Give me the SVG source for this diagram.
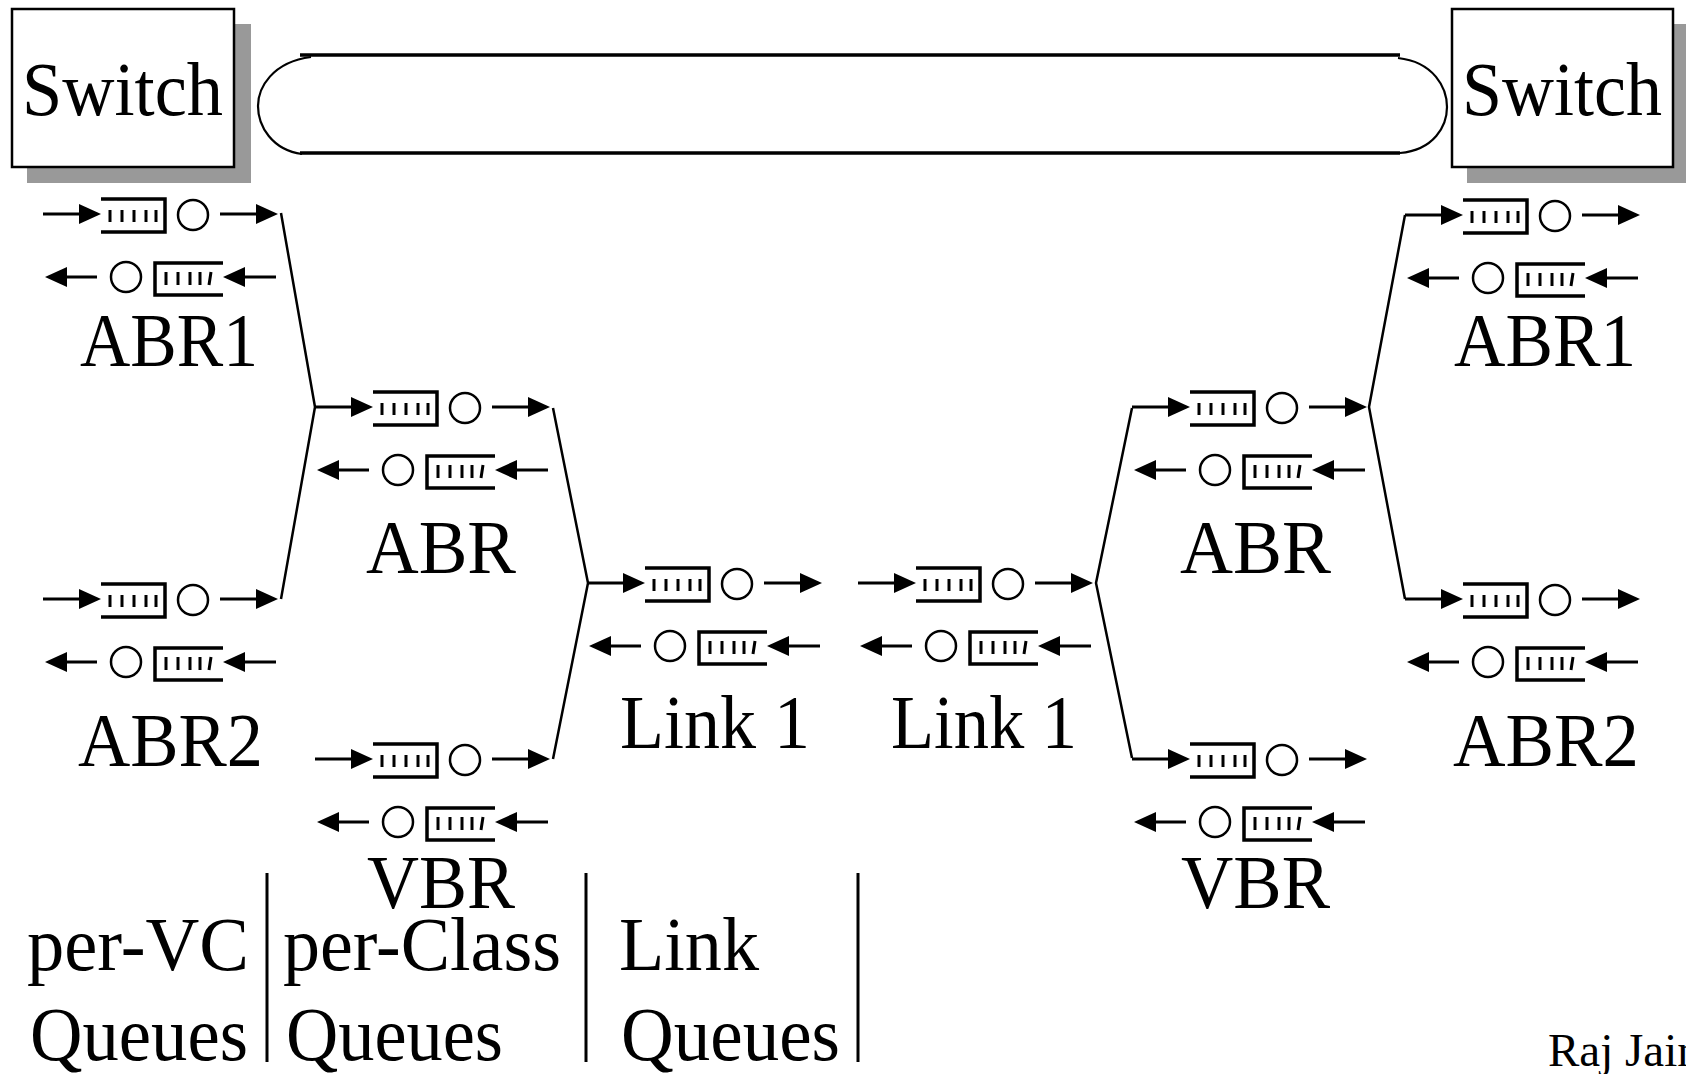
<svg xmlns="http://www.w3.org/2000/svg" xmlns:xlink="http://www.w3.org/1999/xlink" width="1686" height="1074" viewBox="0 0 1686 1074">
<style>
.ln{stroke:#000;stroke-width:3;fill:none}
.bx{stroke:#000;stroke-width:3.5;fill:none}
.tk{stroke:#000;stroke-width:3;fill:none}
.cir{stroke:#000;stroke-width:2.5;fill:#fff}
.ah{fill:#000;stroke:none}
.con{stroke:#000;stroke-width:2.5;fill:none}
.lbl{font-family:"Liberation Serif","Times New Roman",serif;font-size:76px;fill:#000}
.sm{font-family:"Liberation Serif","Times New Roman",serif;font-size:47px;fill:#000}
</style>
<defs>
<g id="unit">
  <!-- forward row -->
  <path class="ln" d="M0,0 H40"/>
  <polygon class="ah" points="36,-10 58,0 36,10"/>
  <path class="bx" d="M58,-15 H122 V18 H58"/>
  <path class="tk" d="M67,-4 V8 M79,-4 V8 M91,-4 V8 M103,-4 V8 M113,-4 V8"/>
  <circle class="cir" cx="150" cy="1" r="15"/>
  <path class="ln" d="M177,0 H216"/>
  <polygon class="ah" points="213,-10 235,0 213,10"/>
  <!-- backward row -->
  <polygon class="ah" points="2,63 24,53 24,73"/>
  <path class="ln" d="M20,63 H54"/>
  <circle class="cir" cx="83" cy="63" r="15"/>
  <path class="bx" d="M180,49 H112 V81 H180"/>
  <path class="tk" d="M123,58 V71 M135,58 V71 M147,58 V71 M157,58 V71 M168,58 L166,71"/>
  <path class="ln" d="M199,63 H233"/>
  <polygon class="ah" points="180,63 202,53 202,73"/>
</g>
</defs>
<rect width="1686" height="1074" fill="#fff"/>

<g id="switch-left">
  <rect x="27" y="24" width="224" height="159" fill="#999"/>
  <rect x="12" y="9" width="222" height="158" fill="#fff" stroke="#000" stroke-width="2.5"/>
  <text class="lbl" x="22" y="115" textLength="201" lengthAdjust="spacingAndGlyphs">Switch</text>
</g>
<g id="switch-right">
  <rect x="1467" y="24" width="224" height="159" fill="#999"/>
  <rect x="1452" y="9" width="221" height="158" fill="#fff" stroke="#000" stroke-width="2.5"/>
  <text class="lbl" x="1462" y="115" textLength="200" lengthAdjust="spacingAndGlyphs">Switch</text>
</g>
<g id="link-pipe">
  <path d="M300,55 H1400 M300,153 H1400" stroke="#000" stroke-width="3.5" fill="none"/>
  <path d="M311,57 C272,62 258,88 258,106 C258,126 272,150 302,154" stroke="#000" stroke-width="2.2" fill="none"/>
  <path d="M1398,58 C1434,62 1447,88 1447,107 C1447,126 1434,150 1400,153" stroke="#000" stroke-width="2.2" fill="none"/>
</g>

<g id="connectors">
  <path class="con" d="M281,213 L315,407 L281,599"/>
  <path class="con" d="M553,408 L588,583 L553,759"/>
  <path class="con" d="M1132,408 L1096,583 L1132,758"/>
  <path class="con" d="M1405,215 L1369,407 L1405,599"/>
  <path class="ln" d="M267,873 V1062 M586,873 V1062 M858,873 V1062"/>
</g>

<g id="abr1-left"><use xlink:href="#unit" href="#unit" x="43" y="214"/>
  <text class="lbl" x="80" y="366" textLength="178" lengthAdjust="spacingAndGlyphs">ABR1</text></g>
<g id="abr2-left"><use xlink:href="#unit" href="#unit" x="43" y="599"/>
  <text class="lbl" x="78" y="766" textLength="185" lengthAdjust="spacingAndGlyphs">ABR2</text></g>
<g id="abr-left"><use xlink:href="#unit" href="#unit" x="315" y="407"/>
  <text class="lbl" x="366" y="573" textLength="150" lengthAdjust="spacingAndGlyphs">ABR</text></g>
<g id="vbr-left"><use xlink:href="#unit" href="#unit" x="315" y="759"/>
  <text class="lbl" x="367" y="908" textLength="148" lengthAdjust="spacingAndGlyphs">VBR</text></g>
<g id="link1-left"><use xlink:href="#unit" href="#unit" x="587" y="583"/>
  <text class="lbl" x="620" y="748" textLength="190" lengthAdjust="spacingAndGlyphs">Link 1</text></g>
<g id="link1-right"><use xlink:href="#unit" href="#unit" x="858" y="583"/>
  <text class="lbl" x="891" y="748" textLength="186" lengthAdjust="spacingAndGlyphs">Link 1</text></g>
<g id="abr-right"><use xlink:href="#unit" href="#unit" x="1132" y="407"/>
  <text class="lbl" x="1180" y="573" textLength="151" lengthAdjust="spacingAndGlyphs">ABR</text></g>
<g id="vbr-right"><use xlink:href="#unit" href="#unit" x="1132" y="759"/>
  <text class="lbl" x="1181" y="908" textLength="149" lengthAdjust="spacingAndGlyphs">VBR</text></g>
<g id="abr1-right"><use xlink:href="#unit" href="#unit" x="1405" y="215"/>
  <text class="lbl" x="1454" y="366" textLength="182" lengthAdjust="spacingAndGlyphs">ABR1</text></g>
<g id="abr2-right"><use xlink:href="#unit" href="#unit" x="1405" y="599"/>
  <text class="lbl" x="1453" y="766" textLength="186" lengthAdjust="spacingAndGlyphs">ABR2</text></g>

<g id="legend">
  <text class="lbl" x="27" y="970" textLength="222" lengthAdjust="spacingAndGlyphs">per-VC</text>
  <text class="lbl" x="30" y="1060" textLength="218" lengthAdjust="spacingAndGlyphs">Queues</text>
  <text class="lbl" x="283" y="970" textLength="278" lengthAdjust="spacingAndGlyphs">per-Class</text>
  <text class="lbl" x="286" y="1060" textLength="217" lengthAdjust="spacingAndGlyphs">Queues</text>
  <text class="lbl" x="619" y="970" textLength="140" lengthAdjust="spacingAndGlyphs">Link</text>
  <text class="lbl" x="621" y="1060" textLength="219" lengthAdjust="spacingAndGlyphs">Queues</text>
</g>
<text class="sm" x="1548" y="1066">Raj Jain</text>
</svg>
